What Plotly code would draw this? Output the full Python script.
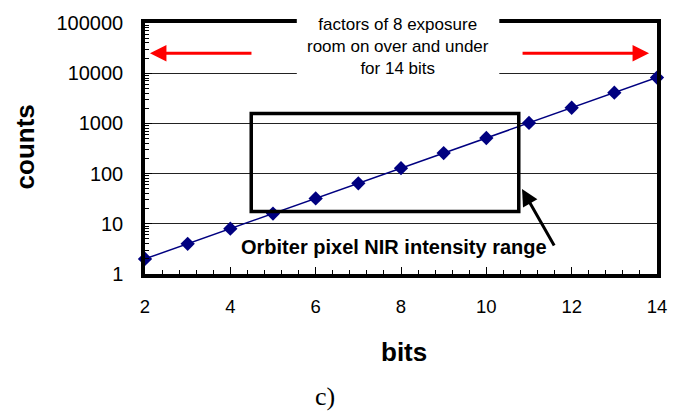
import plotly.graph_objects as go

bits = [2, 3, 4, 5, 6, 7, 8, 9, 10, 11, 12, 13, 14]
counts = [2, 4, 8, 16, 32, 64, 128, 256, 512, 1024, 2048, 4096, 8192]

y_tickvals = [1, 10, 100, 1000, 10000, 100000]
y_ticktext = ["1", "10", "100", "1000", "10000", "100000"]
x_tickvals = [2, 4, 6, 8, 10, 12, 14]

# Orbiter pixel NIR intensity range box (bits, counts)
nir_x = [4.49, 10.76]
nir_y = [17.6, 1570]

box_text = "factors of 8 exposure<br>room on over and under<br>for 14 bits"
nir_label = "Orbiter pixel NIR intensity range"

y_minor = [k * 10 ** d for d in range(5) for k in range(2, 10)]
x_minor = [2 + 0.4 * i for i in range(31)]

FONT = "Liberation Sans, Arial, sans-serif"

fig = go.Figure()
fig.add_trace(go.Scatter(
    x=bits, y=counts, mode="lines+markers",
    line=dict(color="#000080", width=1.5),
    marker=dict(symbol="diamond", size=11, color="#000080"),
    cliponaxis=False, showlegend=False,
))

fig.update_layout(
    width=679, height=413,
    margin=dict(l=145, r=18, t=20, b=139),
    paper_bgcolor="white", plot_bgcolor="white",
    font=dict(family=FONT, color="black"),
    xaxis=dict(
        range=[2, 14], tickvals=x_tickvals, ticks="inside", ticklen=7, tickwidth=1,
        tickcolor="black", showgrid=False, zeroline=False,
        showline=True, linewidth=3.5, linecolor="black", mirror=True,
        tickfont=dict(size=18.5, family=FONT), ticklabelstandoff=13,
        minor=dict(tickvals=x_minor, ticks="inside", ticklen=4, tickcolor="black", showgrid=False),
    ),
    yaxis=dict(
        type="log", range=[0, 5], tickvals=y_tickvals, ticktext=y_ticktext,
        ticks="inside", ticklen=7, tickwidth=1, tickcolor="black",
        showgrid=True, gridcolor="#222222", gridwidth=1, zeroline=False,
        showline=True, linewidth=3.5, linecolor="black", mirror=True,
        tickfont=dict(size=20, family=FONT), ticklabelstandoff=14,
        minor=dict(tickvals=y_minor, ticks="inside", ticklen=4, tickcolor="black", showgrid=False),
    ),
)

# NIR range rectangle (data coordinates; shapes on log axes take raw values)
fig.add_shape(type="rect", xref="x", yref="y",
              x0=nir_x[0], x1=nir_x[1], y0=nir_y[0], y1=nir_y[1],
              line=dict(color="black", width=3.5), layer="above")

# white text box covering top frame / gridline
fig.add_shape(type="rect", xref="paper", yref="paper",
              x0=0.2965, x1=0.692, y0=0.79, y1=1.1,
              line=dict(width=0), fillcolor="white", layer="above")

fig.add_annotation(xref="paper", yref="paper", x=0.494, y=0.907,
                   text=box_text, showarrow=False,
                   font=dict(size=17, family=FONT, color="black"),
                   align="center", xanchor="center", yanchor="middle")

# red arrows
fig.add_annotation(xref="paper", yref="paper", x=0.0097, y=0.879, ax=103, ay=0,
                   text="", showarrow=True, arrowhead=2, arrowsize=1.1,
                   arrowwidth=3, arrowcolor="#ff0000")
fig.add_annotation(xref="paper", yref="paper", x=0.9845, y=0.879, ax=-128, ay=0,
                   text="", showarrow=True, arrowhead=2, arrowsize=1.1,
                   arrowwidth=3, arrowcolor="#ff0000")

# black arrow to NIR box
fig.add_annotation(xref="paper", yref="paper", x=0.7364, y=0.3386, ax=33, ay=58,
                   text="", showarrow=True, arrowhead=2, arrowsize=1.1,
                   arrowwidth=3, arrowcolor="black")

fig.add_annotation(xref="paper", yref="paper", x=0.486, y=0.106,
                   text="<b>" + nir_label + "</b>", showarrow=False,
                   font=dict(size=20, family=FONT, color="black"),
                   xanchor="center", yanchor="middle")

# axis titles and caption
fig.add_annotation(xref="paper", yref="paper", x=0.506, y=-0.31,
                   text="<b>bits</b>", showarrow=False,
                   font=dict(size=26, family=FONT, color="black"),
                   xanchor="center", yanchor="middle")
fig.add_annotation(xref="paper", yref="paper", x=-0.2326, y=0.508,
                   text="<b>counts</b>", showarrow=False, textangle=-90,
                   font=dict(size=26, family=FONT, color="black"),
                   xanchor="center", yanchor="middle")
fig.add_annotation(xref="paper", yref="paper", x=0.351, y=-0.49,
                   text="c)", showarrow=False,
                   font=dict(size=26, family="Liberation Serif, Times New Roman, serif", color="black"),
                   xanchor="center", yanchor="middle")

fig.write_html("out.html")
